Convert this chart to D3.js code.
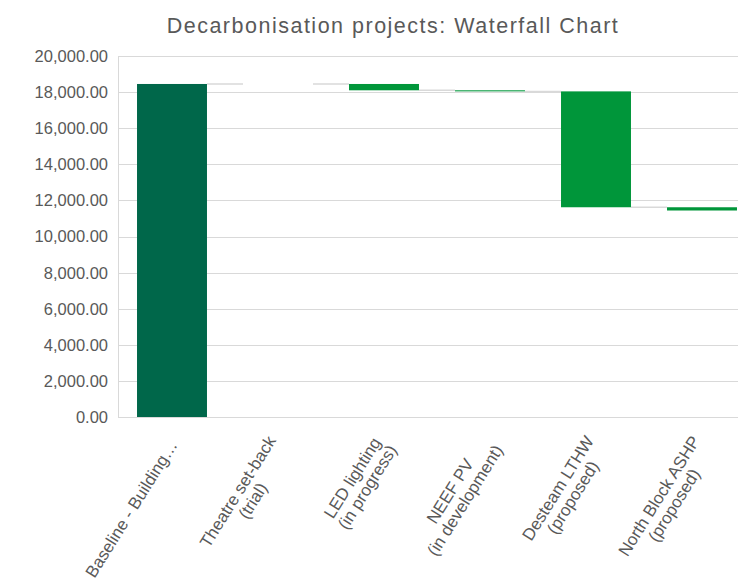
<!DOCTYPE html>
<html lang="en">
  <head>
    <meta charset="UTF-8" />
    <script src="https://d3js.org/d3.v7.min.js"></script>
    <title>Waterfall chart</title>
    <style>
      body { margin: 0; background: #fff; }
      text { font-family: "Liberation Sans", Arial, sans-serif; fill: #595959; }
    </style>
  </head>
  <body>
    <svg id="waterfall" width="738" height="580"></svg>

    <script>
      // categories (multi-line labels split on "\n")
      const categories = [
        "Baseline - Building…",
        "Theatre set-back\n(trial)",
        "LED lighting\n(in progress)",
        "NEEF PV\n(in development)",
        "Desteam LTHW\n(proposed)",
        "North Block ASHP\n(proposed)"
      ];
      // first value is the starting total, the rest are reductions
      const changes = [18450, 0, -350, -60, -6420, -180];
      const yTicks = [0, 2000, 4000, 6000, 8000, 10000, 12000, 14000, 16000, 18000, 20000];

      const svg = d3.select("#waterfall");
      const margin = { top: 56, left: 119, bottom: 163 };
      const plotBottom = 580 - margin.bottom;
      const plotRight = 755;

      // build running totals
      let running = 0;
      const steps = categories.map((c, i) => {
        const start = i === 0 ? 0 : running;
        running = i === 0 ? changes[0] : running + changes[i];
        return { cat: c, start: start, end: running, total: i === 0 };
      });

      const x = d3.scaleBand()
        .domain(categories)
        .range([margin.left, plotRight])
        .paddingInner(0.34)
        .paddingOuter(0.17);

      const y = d3.scaleLinear()
        .domain([0, 20000])
        .range([plotBottom, margin.top]);

      // title
      svg.append("text")
        .attr("x", 393)
        .attr("y", 33)
        .attr("text-anchor", "middle")
        .style("font-size", "21.5px")
        .style("letter-spacing", "1.5px")
        .text("Decarbonisation projects: Waterfall Chart");

      // gridlines
      svg.append("g")
        .selectAll("line")
        .data(yTicks)
        .enter()
        .append("line")
        .attr("x1", margin.left - 1)
        .attr("x2", plotRight)
        .attr("y1", d => Math.round(y(d)) + 0.5)
        .attr("y2", d => Math.round(y(d)) + 0.5)
        .attr("stroke", "#d9d9d9")
        .attr("stroke-width", 1);

      // y axis line
      svg.append("line")
        .attr("x1", margin.left - 0.5)
        .attr("x2", margin.left - 0.5)
        .attr("y1", y(20000))
        .attr("y2", plotBottom)
        .attr("stroke", "#d9d9d9");

      // y tick labels
      const fmt = d3.format(",.2f");
      svg.append("g")
        .selectAll("text")
        .data(yTicks)
        .enter()
        .append("text")
        .attr("x", 108)
        .attr("y", d => y(d))
        .attr("dy", "0.36em")
        .attr("text-anchor", "end")
        .style("font-size", "16.5px")
        .text(d => fmt(d));

      // connectors
      svg.append("g")
        .selectAll("line")
        .data(steps.slice(0, -1))
        .enter()
        .append("line")
        .attr("x1", (d) => x(d.cat) + x.bandwidth())
        .attr("x2", (d, i) => x(categories[i + 1]))
        .attr("y1", d => y(d.end))
        .attr("y2", d => y(d.end))
        .attr("stroke", "#d9d9d9")
        .attr("stroke-width", 1.5);

      // bars
      svg.append("g")
        .selectAll("rect")
        .data(steps)
        .enter()
        .append("rect")
        .attr("x", d => x(d.cat))
        .attr("width", x.bandwidth())
        .attr("y", d => y(Math.max(d.start, d.end)))
        .attr("height", d => Math.abs(y(d.start) - y(d.end)))
        .attr("fill", d => d.total ? "#00674a" : "#00963a");

      // category labels, rotated
      const labels = svg.append("g")
        .selectAll("g")
        .data(categories)
        .enter()
        .append("g")
        .attr("transform", d => `translate(${x(d) + x.bandwidth() / 2 + 1},${plotBottom + 25}) rotate(-58)`);

      labels.each(function (d) {
        const g = d3.select(this);
        const lines = d.split("\n");
        const lh = 17.5;
        const texts = lines.map((l, i) =>
          g.append("text")
            .attr("y", (i - (lines.length - 1) / 2) * lh)
            .attr("dy", "0.35em")
            .attr("text-anchor", "middle")
            .style("font-size", "17px")
            .text(l)
        );
        const w = d3.max(texts, t => t.node().getComputedTextLength());
        texts.forEach(t => t.attr("x", -w / 2));
      });
    </script>
  </body>
</html>
